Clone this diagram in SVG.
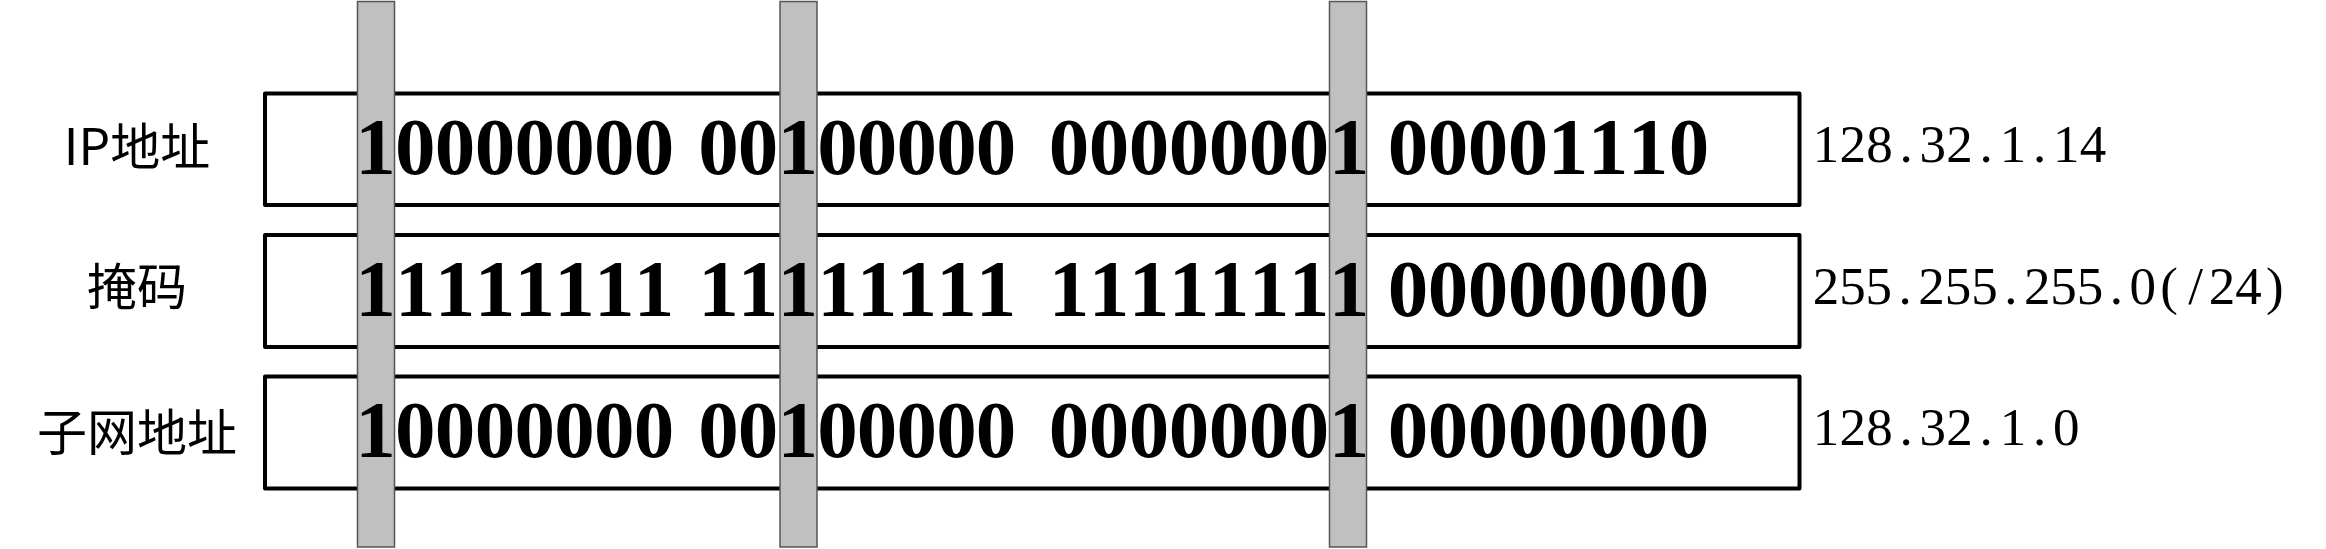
<svg xmlns="http://www.w3.org/2000/svg" width="2326" height="549" viewBox="0 0 2326 549">
<style>
.box{fill:#fff;stroke:#000;stroke-width:4;stroke-linejoin:round}
.bar{fill:#c0c0c0;stroke:#555;stroke-width:1.5}
.bits{font-family:"Liberation Serif","Times New Roman",serif;font-weight:bold;font-size:81px;fill:#000;text-anchor:middle}
.lbl{font-family:"Noto Sans CJK SC","Noto Sans",sans-serif;font-size:50px;fill:#000;text-anchor:middle}
.dec{font-family:"Liberation Serif","Times New Roman",serif;font-size:53px;fill:#000;text-anchor:middle}
</style>
<g id="row-ip">
<rect class="box" x="265" y="93.5" width="1534.5" height="111.5"/>
<text class="lbl" x="137" y="165">IP地址</text>
<text class="dec" y="162" x="1826 1852.7 1879.4 1906.1 1932.8 1959.5 1986.2 2012.9 2039.6 2066.3 2093">128.32.1.14</text>
</g>
<g id="row-mask">
<rect class="box" x="265" y="235" width="1534.5" height="112"/>
<text class="lbl" x="137" y="305">掩码</text>
<text class="dec" y="304" x="1826 1852.4 1878.8 1905.2 1931.6 1958 1984.4 2010.8 2037.2 2063.6 2090 2116.4 2142.8 2169.2 2195.6 2222 2248.4 2274.8">255.255.255.0(/24)</text>
</g>
<g id="row-subnet">
<rect class="box" x="265" y="376.5" width="1534.5" height="112"/>
<text class="lbl" x="137" y="451">子网地址</text>
<text class="dec" y="445" x="1826 1852.7 1879.4 1906.1 1932.8 1959.5 1986.2 2012.9 2039.6 2066.3">128.32.1.0</text>
</g>
<g id="bars">
<rect class="bar" x="357.5" y="1.5" width="37" height="545.5"/>
<rect class="bar" x="780" y="1.5" width="37" height="545.5"/>
<rect class="bar" x="1329.5" y="1.5" width="37" height="545.5"/>
</g>
<g id="bits">
<text class="bits" y="174" xml:space="preserve" x="375.5 415.3 455.1 494.9 534.7 574.5 614.3 654.1 686.3 718.5 758.1 797.8 837.4 877.1 916.7 956.4 996 1032.5 1069 1109 1149 1189 1229 1269 1309 1349 1378.5 1408 1448 1488 1528 1568 1608 1648 1689">10000000 00100000 00000001 00001110</text>
<text class="bits" y="316" xml:space="preserve" x="375.5 415.3 455.1 494.9 534.7 574.5 614.3 654.1 686.3 718.5 758.1 797.8 837.4 877.1 916.7 956.4 996 1032.5 1069 1109 1149 1189 1229 1269 1309 1349 1378.5 1408 1448 1488 1528 1568 1608 1648 1689">11111111 11111111 11111111 00000000</text>
<text class="bits" y="457" xml:space="preserve" x="375.5 415.3 455.1 494.9 534.7 574.5 614.3 654.1 686.3 718.5 758.1 797.8 837.4 877.1 916.7 956.4 996 1032.5 1069 1109 1149 1189 1229 1269 1309 1349 1378.5 1408 1448 1488 1528 1568 1608 1648 1689">10000000 00100000 00000001 00000000</text>
</g>
</svg>
